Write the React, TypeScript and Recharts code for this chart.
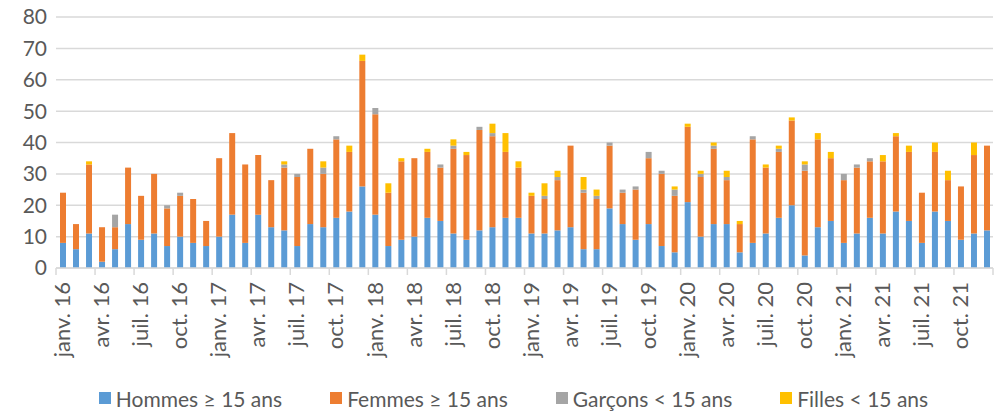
import React from 'react'
import { BarChart, Bar, XAxis, YAxis, CartesianGrid, Legend } from 'recharts'

const monthNames = ['janv.', 'févr.', 'mars', 'avr.', 'mai', 'juin', 'juil.', 'août', 'sept.', 'oct.', 'nov.', 'déc.']
const years = ['16', '17', '18', '19', '20', '21']

const hommes = [
  8, 6, 11, 2, 6, 14, 9, 11, 7, 10, 8, 7, 10, 17, 8, 17, 13, 12,
  7, 14, 13, 16, 18, 26, 17, 7, 9, 10, 16, 15, 11, 9, 12, 13, 16, 16,
  11, 11, 12, 13, 6, 6, 19, 14, 9, 14, 7, 5, 21, 10, 14, 14, 5,
  8, 11, 16, 20, 4, 13, 15, 8, 11, 16, 11, 18, 15, 8, 18, 15, 9, 11, 12,
]
const femmes = [
  16, 8, 22, 11, 7, 18, 14, 19, 12, 13, 14, 8, 25, 26, 25, 19, 15, 20,
  22, 24, 17, 25, 19, 40, 32, 17, 25, 25, 21, 17, 27, 27, 32, 29, 21, 16,
  12, 11, 16, 26, 18, 16, 20, 10, 16, 21, 23, 18, 24, 19, 24, 14, 9,
  33, 21, 21, 27, 27, 28, 20, 20, 21, 18, 23, 24, 22, 16, 19, 13, 17, 25, 27,
]
const garcons = [
  0, 0, 0, 0, 4, 0, 0, 0, 1, 1, 0, 0, 0, 0, 0, 0, 0, 1,
  1, 0, 2, 1, 0, 0, 2, 0, 0, 0, 0, 1, 1, 0, 1, 1, 0, 0,
  0, 1, 1, 0, 1, 1, 1, 1, 1, 2, 1, 2, 0, 1, 1, 1, 0,
  1, 0, 1, 0, 2, 0, 0, 2, 1, 1, 0, 0, 0, 0, 0, 0, 0, 0, 0,
]
const filles = [
  0, 0, 1, 0, 0, 0, 0, 0, 0, 0, 0, 0, 0, 0, 0, 0, 0, 1,
  0, 0, 2, 0, 2, 2, 0, 3, 1, 0, 1, 0, 2, 1, 0, 3, 6, 2,
  1, 4, 2, 0, 4, 2, 0, 0, 0, 0, 0, 1, 1, 1, 1, 2, 1,
  0, 1, 1, 1, 1, 2, 2, 0, 0, 0, 2, 1, 2, 0, 3, 3, 0, 4, 0,
]
const yTicks = [0, 10, 20, 30, 40, 50, 60, 70, 80]

const months = years.flatMap((y) => monthNames.map((m) => `${m} ${y}`))
const data = months.map((month, i) => ({
  month,
  hommes: hommes[i],
  femmes: femmes[i],
  garcons: garcons[i],
  filles: filles[i],
}))

const series = [
  { key: 'hommes', name: 'Hommes ≥ 15 ans', color: '#5B9BD5' },
  { key: 'femmes', name: 'Femmes ≥ 15 ans', color: '#ED7D31' },
  { key: 'garcons', name: 'Garçons < 15 ans', color: '#A5A5A5' },
  { key: 'filles', name: 'Filles < 15 ans', color: '#FFC000' },
]

const FONT = 'Lato, "Open Sans", sans-serif'
const TEXT = '#595959'
const AXIS = '#D9D9D9'
const WIDTH = 994
const PLOT_LEFT = 56
const PLOT_RIGHT = 1
const band = (WIDTH - PLOT_LEFT - PLOT_RIGHT) / months.length

// Excel-style tick: mark on the category boundary, rotated label on the center
const MonthTick = ({ x, y, payload }: any) => {
  const lastShown = payload.index === months.length - 3
  return (
    <g>
      <line x1={x - band / 2} x2={x - band / 2} y1={y - 8} y2={y - 1} stroke={AXIS} strokeWidth={1.5} />
      {lastShown && (
        <line x1={x + band * 2.5} x2={x + band * 2.5} y1={y - 8} y2={y - 1} stroke={AXIS} strokeWidth={1.5} />
      )}
      <text
        x={x}
        y={y + 6}
        dy="0.35em"
        textAnchor="end"
        transform={`rotate(-90, ${x}, ${y + 6})`}
        fill={TEXT}
        fontSize={22}
        fontFamily={FONT}
      >
        {payload.value}
      </text>
    </g>
  )
}

const LegendContent = () => (
  <div
    style={{
      display: 'flex',
      justifyContent: 'center',
      alignItems: 'center',
      gap: 48,
      height: 32,
      paddingLeft: 34,
      fontFamily: FONT,
      fontSize: 21,
      color: TEXT,
    }}
  >
    {series.map((s) => (
      <div key={s.key} style={{ display: 'flex', alignItems: 'center', gap: 5 }}>
        <span style={{ width: 12, height: 12, background: s.color, display: 'inline-block' }} />
        <span>{s.name}</span>
      </div>
    ))}
  </div>
)

export default function App() {
  return (
    <div style={{ position: 'absolute', left: 0, top: 0, background: '#fff' }}>
      <BarChart
        width={WIDTH}
        height={414}
        data={data}
        margin={{ top: 17, right: PLOT_RIGHT, left: 0, bottom: 0 }}
        barSize={6}
        barCategoryGap={0}
      >
        <CartesianGrid stroke={AXIS} strokeWidth={1.5} vertical={false} />
        <XAxis
          dataKey="month"
          interval={2}
          height={114}
          tick={<MonthTick />}
          tickLine={false}
          axisLine={{ stroke: AXIS, strokeWidth: 1.5 }}
        />
        <YAxis
          width={PLOT_LEFT}
          domain={[0, 80]}
          ticks={yTicks}
          tickLine={false}
          axisLine={false}
          tickMargin={3}
          tick={{ fill: TEXT, fontSize: 21, fontFamily: FONT }}
        />
        <Legend verticalAlign="bottom" content={<LegendContent />} />
        {series.map((s) => (
          <Bar key={s.key} dataKey={s.key} name={s.name} stackId="a" fill={s.color} isAnimationActive={false} />
        ))}
      </BarChart>
    </div>
  )
}
